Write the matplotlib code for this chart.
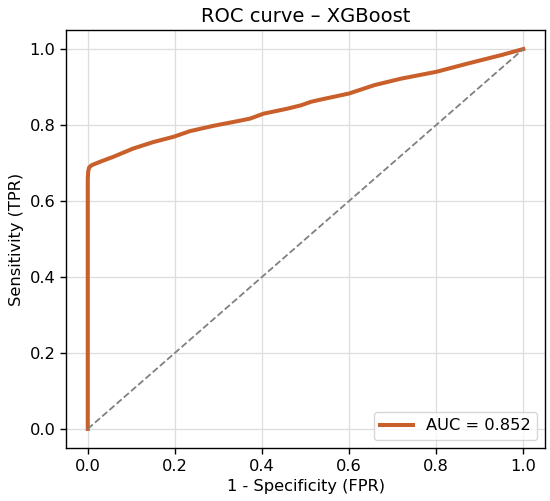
import numpy as np
import matplotlib
matplotlib.use("Agg")
import matplotlib.pyplot as plt

# ROC points
fpr = [0.0, 0.0, 0.0, 0.001, 0.003, 0.0085, 0.03, 0.058, 0.104, 0.150, 0.197,
       0.235, 0.289, 0.343, 0.373, 0.404, 0.458, 0.49, 0.512, 0.535, 0.600,
       0.658, 0.719, 0.800, 0.873, 0.949, 1.0]
tpr = [0.0, 0.4, 0.66, 0.678, 0.688, 0.694, 0.704, 0.716, 0.738, 0.755, 0.769,
       0.784, 0.798, 0.810, 0.817, 0.830, 0.843, 0.852, 0.861, 0.867, 0.883,
       0.905, 0.922, 0.940, 0.962, 0.984, 1.0]
auc_val = 0.852

plt.rcParams.update({
    "font.size": 11.7,
    "axes.linewidth": 1.0,
    "xtick.major.size": 4.2,
    "ytick.major.size": 4.2,
    "xtick.major.width": 1.0,
    "ytick.major.width": 1.0,
})

fig = plt.figure(figsize=(5.5, 5.01), dpi=100)
ax = fig.add_axes([0.12, 0.106, 0.871, 0.834])

ax.plot(fpr, tpr, color="#c95f2a", lw=2.9, label=f"AUC = {auc_val:.3f}")
ax.plot([0, 1], [0, 1], linestyle="--", color="gray", lw=1.3)

ax.set_title("ROC curve – XGBoost", fontsize=14)
ax.set_xlabel("1 - Specificity (FPR)")
ax.set_ylabel("Sensitivity (TPR)")
ax.grid(True, color="#dddddd", lw=0.9)
ax.set_xticks(np.arange(0, 1.01, 0.2))
ax.set_yticks(np.arange(0, 1.01, 0.2))
ax.legend(loc="lower right")

fig.savefig("out.png", dpi=100)
